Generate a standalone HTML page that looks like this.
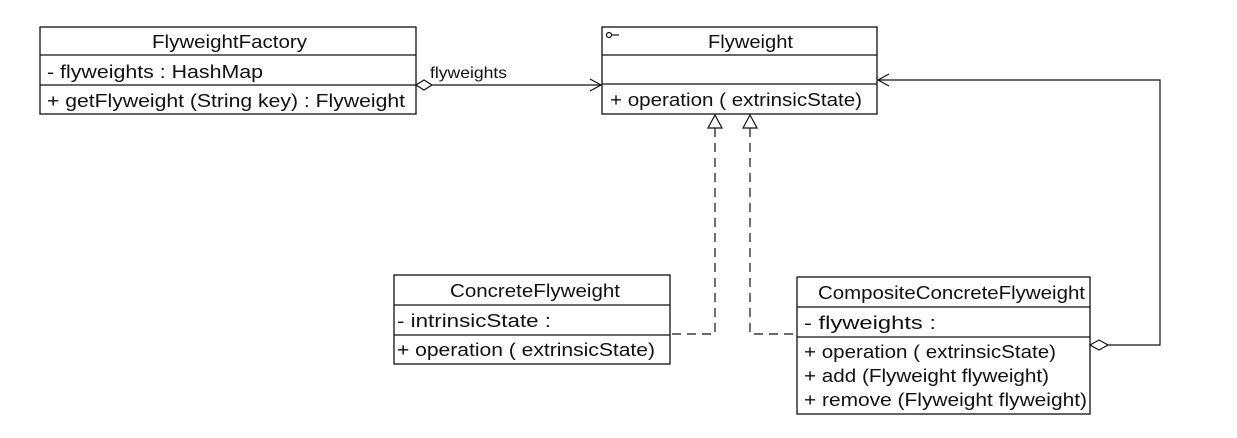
<!DOCTYPE html>
<html><head><style>
html,body{margin:0;padding:0;background:#fff;}
svg text{font-family:"Liberation Sans",Arial,sans-serif;font-size:18px;fill:#111;}
</style></head><body>
<svg width="1237" height="433" viewBox="0 0 1237 433" xmlns="http://www.w3.org/2000/svg">
<g fill="#fff" stroke="#111" stroke-width="1.3">
<rect x="40" y="27" width="376" height="87"/>
<line x1="40" y1="55" x2="416" y2="55"/>
<line x1="40" y1="85" x2="416" y2="85"/>
<rect x="602" y="27" width="275" height="87"/>
<line x1="602" y1="55" x2="877" y2="55"/>
<line x1="602" y1="84" x2="877" y2="84"/>
<rect x="394" y="275" width="276" height="89"/>
<line x1="394" y1="305" x2="670" y2="305"/>
<line x1="394" y1="335" x2="670" y2="335"/>
<rect x="797" y="277" width="293" height="137"/>
<line x1="797" y1="307" x2="1090" y2="307"/>
<line x1="797" y1="337" x2="1090" y2="337"/>
</g>
<g fill="none" stroke="#111" stroke-width="1.2">
<path d="M416 85 L424 80 L432 85 L424 90 Z" fill="#fff"/>
<line x1="432" y1="85" x2="601" y2="85"/>
<path d="M590 79 L601 85 L590 91"/>
<path d="M1090 345 L1099 340 L1108 345 L1099 350 Z" fill="#fff"/>
<path d="M1108 345 L1160 345 L1160 80 L878 80"/>
<path d="M889 74 L878 80 L889 86"/>
<path d="M715 128 L715 334 L670 334" stroke-dasharray="9,6"/>
<path d="M750 128 L750 334 L797 334" stroke-dasharray="9,6"/>
<path d="M708 128 L715 115 L722 128 Z" fill="#fff"/>
<path d="M743 128 L750 115 L757 128 Z" fill="#fff"/>
<circle cx="609" cy="35" r="2.5"/>
<line x1="611.5" y1="35" x2="619" y2="35"/>
</g>
<text x="152" y="48" textLength="155" lengthAdjust="spacingAndGlyphs">FlyweightFactory</text>
<text x="47" y="78" textLength="216" lengthAdjust="spacingAndGlyphs">- flyweights : HashMap</text>
<text x="47" y="107" textLength="358" lengthAdjust="spacingAndGlyphs">+ getFlyweight (String key) : Flyweight</text>
<text x="430" y="78" textLength="77" lengthAdjust="spacingAndGlyphs" style="font-size:16px">flyweights</text>
<text x="708" y="48" textLength="85" lengthAdjust="spacingAndGlyphs">Flyweight</text>
<text x="610" y="106" textLength="252" lengthAdjust="spacingAndGlyphs">+ operation ( extrinsicState)</text>
<text x="450" y="297" textLength="170" lengthAdjust="spacingAndGlyphs">ConcreteFlyweight</text>
<text x="397" y="327" textLength="154" lengthAdjust="spacingAndGlyphs">- intrinsicState :</text>
<text x="397" y="356" textLength="258" lengthAdjust="spacingAndGlyphs">+ operation ( extrinsicState)</text>
<text x="818" y="299" textLength="267" lengthAdjust="spacingAndGlyphs">CompositeConcreteFlyweight</text>
<text x="804" y="329" textLength="132" lengthAdjust="spacingAndGlyphs">- flyweights :</text>
<text x="804" y="358" textLength="252" lengthAdjust="spacingAndGlyphs">+ operation ( extrinsicState)</text>
<text x="804" y="382" textLength="245" lengthAdjust="spacingAndGlyphs">+ add (Flyweight flyweight)</text>
<text x="804" y="406" textLength="283" lengthAdjust="spacingAndGlyphs">+ remove (Flyweight flyweight)</text>
</svg>
</body></html>
